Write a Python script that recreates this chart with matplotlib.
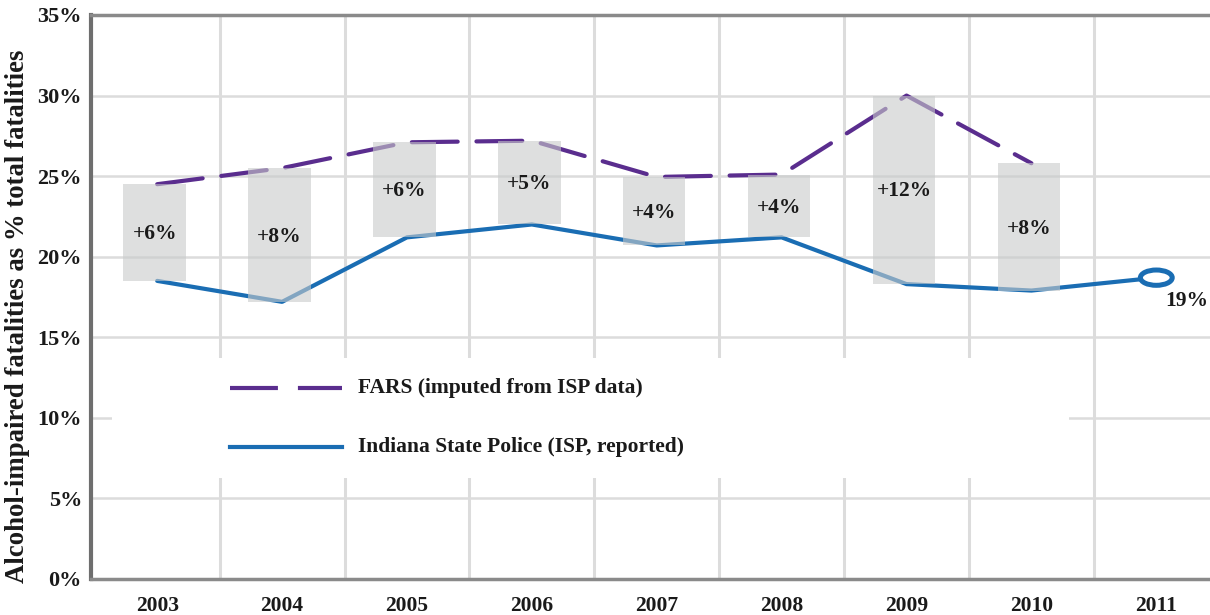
import matplotlib
matplotlib.use("Agg")
import matplotlib.pyplot as plt
from matplotlib.patches import Rectangle, Ellipse

years = [2003, 2004, 2005, 2006, 2007, 2008, 2009, 2010, 2011]
fars = [24.5, 25.5, 27.1, 27.2, 24.95, 25.1, 30.0, 25.8]
isp = [18.5, 17.2, 21.2, 22.0, 20.7, 21.2, 18.3, 17.9, 18.7]
diff_labels = ["+6%", "+8%", "+6%", "+5%", "+4%", "+4%", "+12%", "+8%"]
yticks = [0, 5, 10, 15, 20, 25, 30, 35]
ytick_labels = ["0%", "5%", "10%", "15%", "20%", "25%", "30%", "35%"]
last_label = "19%"
legend_fars = "FARS (imputed from ISP data)"
legend_isp = "Indiana State Police (ISP, reported)"
ylabel = "Alcohol-impaired fatalities as % total fatalities"

plt.rcParams['font.family'] = ['Liberation Serif', 'DejaVu Serif']
plt.rcParams['font.weight'] = 'bold'

purple = "#5a2d8e"
blue = "#1a6db3"
grid = "#dcdcdc"
txt = "#1a1a1a"

fig = plt.figure(figsize=(12.1, 6.15), dpi=100)
ax = fig.add_axes([91/1210, 1-579/615, 1-91/1210, (579-15)/615])
ax.set_xlim(2002.47, 2011.43)
ax.set_ylim(0, 35)

# grid
for x in [y + 0.5 for y in years[:-1]]:
    ax.axvline(x, color=grid, lw=2.2, zorder=0)
for yv in yticks[1:-1]:
    ax.axhline(yv, color=grid, lw=1.8, zorder=0)

# white legend box covering grid
ax.add_patch(Rectangle((2002.64, 6.24), 2010.3 - 2002.64, 13.7 - 6.24,
                       facecolor="white", edgecolor="none", zorder=1))

# lines
ax.plot(years[:len(fars)], fars, color=purple, lw=3, ls=(0, (11, 4.5)),
        dash_capstyle='round', solid_capstyle='round', zorder=2)
ax.plot(years, isp, color=blue, lw=3, zorder=2, solid_capstyle='round')
ax.add_patch(Ellipse((years[-1], isp[-1]), 0.255, 0.95, facecolor='white',
                     edgecolor=blue, lw=3.6, zorder=5))

# difference bars over lines
for i, lab in enumerate(diff_labels):
    lo, hi = isp[i], fars[i]
    ax.bar(years[i] - 0.02, hi - lo, bottom=lo, width=0.5, color="#c9cbcb",
           alpha=0.6, zorder=3, linewidth=0)
    ax.text(years[i] - 0.02, (lo + hi) / 2 - 0.1, lab, ha='center', va='center',
            fontsize=15.5, fontweight='bold', color=txt, zorder=4)

ax.text(years[-1] + 0.24, isp[-1] - 1.45, last_label, ha='center', va='center',
        fontsize=15.5, fontweight='bold', color=txt, zorder=4)

# legend drawn manually
ax.plot([2003.58, 2004.48], [11.86, 11.86], color=purple, lw=3,
        ls=(0, (11.5, 4.8)), zorder=4)
ax.plot([2003.58, 2004.48], [8.19, 8.19], color=blue, lw=3, zorder=4)
ax.text(2004.61, 11.86, legend_fars, ha='left', va='center', fontsize=15.5,
        fontweight='bold', color=txt, zorder=4)
ax.text(2004.61, 8.19, legend_isp, ha='left', va='center', fontsize=15.5,
        fontweight='bold', color=txt, zorder=4)

ax.set_xticks(years)
ax.set_xticklabels([str(y) for y in years], fontsize=15.5, fontweight='bold')
ax.set_yticks(yticks)
ax.set_yticklabels(ytick_labels, fontsize=16, fontweight='bold')
ax.tick_params(length=0, colors=txt)
ax.tick_params(axis='y', pad=6.5)
ax.tick_params(axis='x', pad=12)

ax.spines['right'].set_visible(False)
ax.spines['left'].set_color("#6e6e6e")
ax.spines['left'].set_linewidth(3)
ax.spines['top'].set_color("#8a8a8a")
ax.spines['top'].set_linewidth(2.5)
ax.spines['bottom'].set_color("#8a8a8a")
ax.spines['bottom'].set_linewidth(2.5)

fig.text(18/1210, 1 - 316/615, ylabel, rotation=90, ha='center', va='center',
         fontsize=19.3, fontweight='bold', color=txt)

fig.savefig("out.png", dpi=100)
